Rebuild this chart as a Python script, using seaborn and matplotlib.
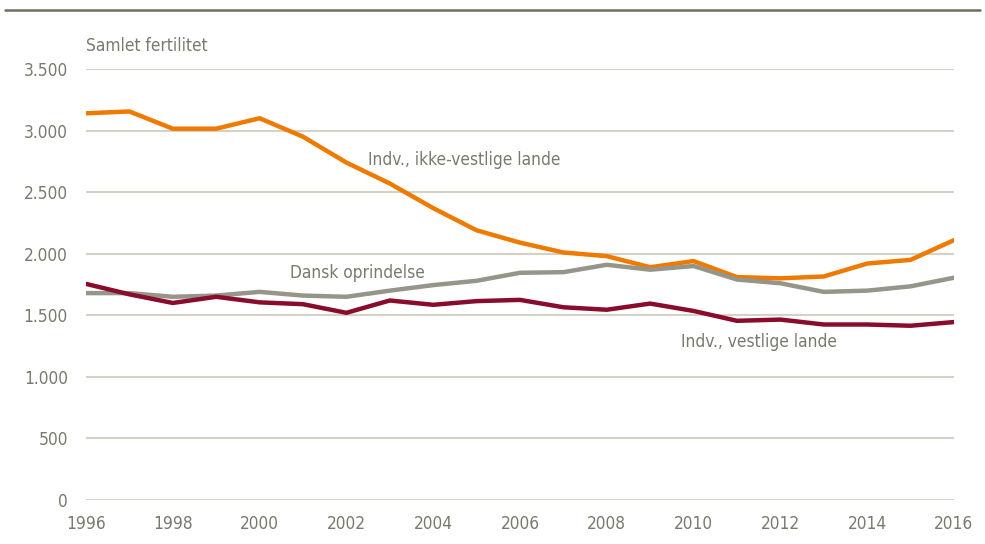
import pandas as pd
import matplotlib.pyplot as plt
import matplotlib.lines as mlines
import matplotlib.ticker as mticker
import seaborn as sns

# Data
years = list(range(1996, 2017))
ikke_vestlige = [3140, 3155, 3015, 3015, 3100, 2950, 2740, 2570, 2370, 2190, 2090,
                 2010, 1980, 1890, 1940, 1810, 1800, 1815, 1920, 1950, 2110]
dansk = [1680, 1680, 1650, 1660, 1690, 1660, 1650, 1700, 1745, 1780, 1845,
         1850, 1910, 1870, 1900, 1790, 1760, 1690, 1700, 1735, 1805]
vestlige = [1755, 1670, 1600, 1650, 1605, 1590, 1520, 1620, 1585, 1615, 1625,
            1565, 1545, 1595, 1535, 1455, 1465, 1425, 1425, 1415, 1445]
series_names = ['Indv., ikke-vestlige lande', 'Dansk oprindelse', 'Indv., vestlige lande']
colors = ['#ee7a00', '#96958a', '#8a0c2c']

df = pd.DataFrame({'year': years * 3,
                   'value': ikke_vestlige + dansk + vestlige,
                   'serie': [series_names[0]] * len(years) + [series_names[1]] * len(years)
                            + [series_names[2]] * len(years)})

sns.set_style('white')
plt.rcParams['font.family'] = ['DejaVu Sans', 'Liberation Sans']
plt.rcParams['font.stretch'] = 'condensed'
text_color = '#7a796e'
fs = 12.4

fig = plt.figure(figsize=(9.85, 5.44), dpi=100)
ax = fig.add_axes([0.0873, 0.0809, 0.8812, 0.7923])

sns.lineplot(data=df, x='year', y='value', hue='serie', palette=colors,
             hue_order=series_names, linewidth=3.2, legend=False, ax=ax)

ax.set_xlim(1996, 2016)
ax.set_ylim(0, 3500)
ax.set_xticks(range(1996, 2017, 2))
ax.set_yticks(range(0, 3501, 500))
ax.yaxis.set_major_formatter(mticker.FuncFormatter(lambda v, p: f'{int(v):,}'.replace(',', '.')))
ax.grid(axis='y', color='#d4d2c8', linewidth=1.5)
ax.set_axisbelow(True)
for s in ax.spines.values():
    s.set_visible(False)
ax.tick_params(axis='both', length=0, labelsize=fs, colors=text_color)
ax.tick_params(axis='y', pad=13)
ax.tick_params(axis='x', pad=11)
ax.set_xlabel('')
ax.set_ylabel('')

# Line labels
ax.text(2002.5, 2760, series_names[0], color=text_color, fontsize=fs, va='center')
ax.text(2000.7, 1840, series_names[1], color=text_color, fontsize=fs, va='center')
ax.text(2009.7, 1285, series_names[2], color=text_color, fontsize=fs, va='center')

fig.text(0.0873, 0.915, 'Samlet fertilitet', color=text_color, fontsize=fs, va='center')

# Rule at the top
fig.add_artist(mlines.Line2D([0.005, 0.995], [0.981, 0.981], color='#6f6d5f', linewidth=1.8))

plt.savefig('out.png', dpi=100)
